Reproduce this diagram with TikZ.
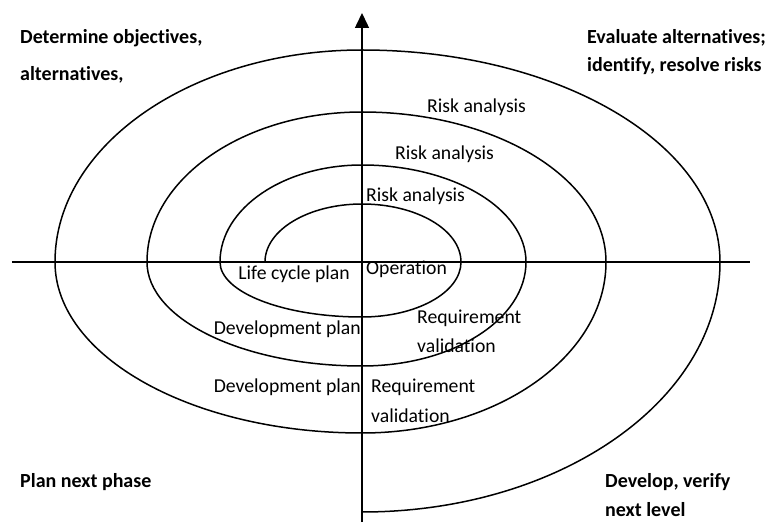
\documentclass[tikz,border=0pt]{standalone}
\usepackage{fontspec}
\setmainfont{Carlito}[Ligatures=NoCommon]
\usepackage{tikz}
\usetikzlibrary{arrows.meta}

\begin{document}
\begin{tikzpicture}[x=1pt,y=1pt]
	\useasboundingbox (-362,-262) rectangle (406,262);
	\tikzstyle{axis}=[line width=1.5pt]
	\tikzstyle{spiral}=[line width=1.5pt]
	\tikzstyle{lbl}=[inner sep=0pt,font=\fontsize{19.7}{23}\selectfont]
	\tikzstyle{quad}=[inner sep=0pt,font=\fontsize{20}{24}\selectfont\bfseries]
	% axes
	\coordinate (xl) at (-350,0);
	\coordinate (xr) at (388,0);
	\coordinate (yb) at (0,-260);
	\coordinate (yt) at (0,249);
	\draw[axis] (xl)--(xr);
	\draw[axis,-{Triangle[width=14pt,length=15pt]}] (yb)--(yt);
	% spiral, quarter by quarter
	\coordinate (s0) at (-97,0);
	\draw[spiral] (s0)
		\foreach \s/\e/\rx/\ry in {180/90/97/58,90/0/99/58,0/-90/99/55,270/180/142/55,
			180/90/142/97,90/0/164/97,0/-90/164/104,270/180/215/104,
			180/90/215/150,90/0/244/150,0/-90/244/171,270/180/307/171,
			180/90/307/212,90/0/358/212,0/-90/358/250}
		{arc[start angle=\s,end angle=\e,x radius=\rx pt,y radius=\ry pt]};
	% labels on the spiral
	\node[lbl,anchor=base west] (r3) at (65,149) {Risk analysis};
	\node[lbl,anchor=base west] (r2) at (33,102) {Risk analysis};
	\node[lbl,anchor=base west] (r1) at (4,60) {Risk analysis};
	\node[lbl,anchor=base west] (op) at (4,-13) {Operation};
	\node[lbl,anchor=base east] (lc) at (-12,-18) {Life cycle plan};
	\node[lbl,anchor=base east] (dp1) at (-1,-73) {Development plan};
	\node[lbl,anchor=base east] (dp2) at (-1,-131) {Development plan};
	\node[lbl,anchor=base west] (rq1) at (55,-62) {Requirement};
	\node[lbl,anchor=base west] (va1) at (55,-91) {validation};
	\node[lbl,anchor=base west] (rq2) at (9,-131) {Requirement};
	\node[lbl,anchor=base west] (va2) at (9,-160) {validation};
	% quadrants
	\node[quad,anchor=base west] (q1a) at (-342,218) {Determine objectives,};
	\node[quad,anchor=base west] (q1b) at (-342,181) {alternatives,};
	\node[quad,anchor=base west] (q2a) at (225,218) {Evaluate alternatives;};
	\node[quad,anchor=base west] (q2b) at (225,190) {identify, resolve risks};
	\node[quad,anchor=base west] (q3) at (-342,-225) {Plan next phase};
	\node[quad,anchor=base west] (q4a) at (243,-225) {Develop, verify};
	\node[quad,anchor=base west] (q4b) at (243,-254) {next level};
\end{tikzpicture}
\end{document}
